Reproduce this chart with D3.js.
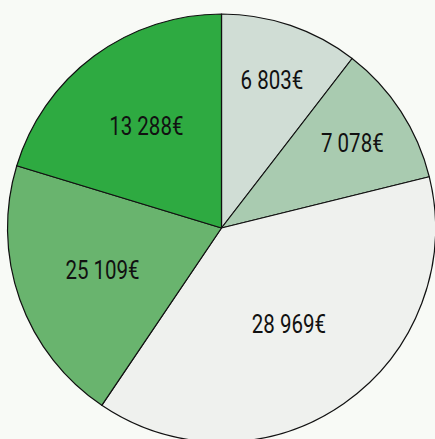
<!DOCTYPE html>
<html>
    <head>
        <meta charset="utf-8"/>
        <script src="https://cdnjs.cloudflare.com/ajax/libs/d3/7.8.5/d3.min.js"></script>
        <style>
            html, body { margin: 0; padding: 0; background: #f8faf6; }
        </style>
    </head>
    <body>
        <script>
            // slice order clockwise from 12 o'clock
            const amounts = [6803, 7078, 28969, 25109, 13288];
            // slice sizes (in %), not proportional to the amounts
            const shares = [10.45, 10.7, 38.3, 20.25, 20.3];
            const colors = ["#d0ddd5", "#a9cbb0", "#eff1ee", "#69b46e", "#2eaa41"];

            const width = 435, height = 439;
            const cx = 221.5, cy = 228, radius = 214;

            const fmt = v => d3.format(",")(v).replace(/,/g, " ") + "€";

            const data = amounts.map((a, i) => ({amount: a, share: shares[i], color: colors[i]}));

            const pie = d3.pie().sort(null).value(d => d.share);
            const arc = d3.arc().innerRadius(0).outerRadius(radius);
            const arcs = pie(data);

            const svg = d3.select("body").append("svg")
                .attr("width", width)
                .attr("height", height);

            const g = svg.append("g").attr("transform", `translate(${cx},${cy})`);

            g.selectAll("path")
                .data(arcs)
                .join("path")
                .attr("d", arc)
                .attr("fill", d => d.data.color)
                .attr("stroke", "#111")
                .attr("stroke-width", 1.2)
                .attr("stroke-linejoin", "round");

            // small slices get labels further out
            const labelArc = d => {
                const span = d.endAngle - d.startAngle;
                const r = span < 1 ? radius * 0.73 : (span > 2 ? radius * 0.55 : radius * 0.59);
                return d3.arc().innerRadius(r).outerRadius(r).centroid(d);
            };

            // condensed look: Roboto squeezed horizontally
            g.append("g")
                .attr("font-family", "Roboto, sans-serif")
                .attr("font-size", 25)
                .attr("text-anchor", "middle")
                .attr("fill", "#111")
                .selectAll("text")
                .data(arcs)
                .join("text")
                .attr("transform", d => `translate(${labelArc(d)}) scale(0.82,1)`)
                .attr("dy", "0.355em")
                .text(d => fmt(d.data.amount));
        </script>
    </body>
</html>
